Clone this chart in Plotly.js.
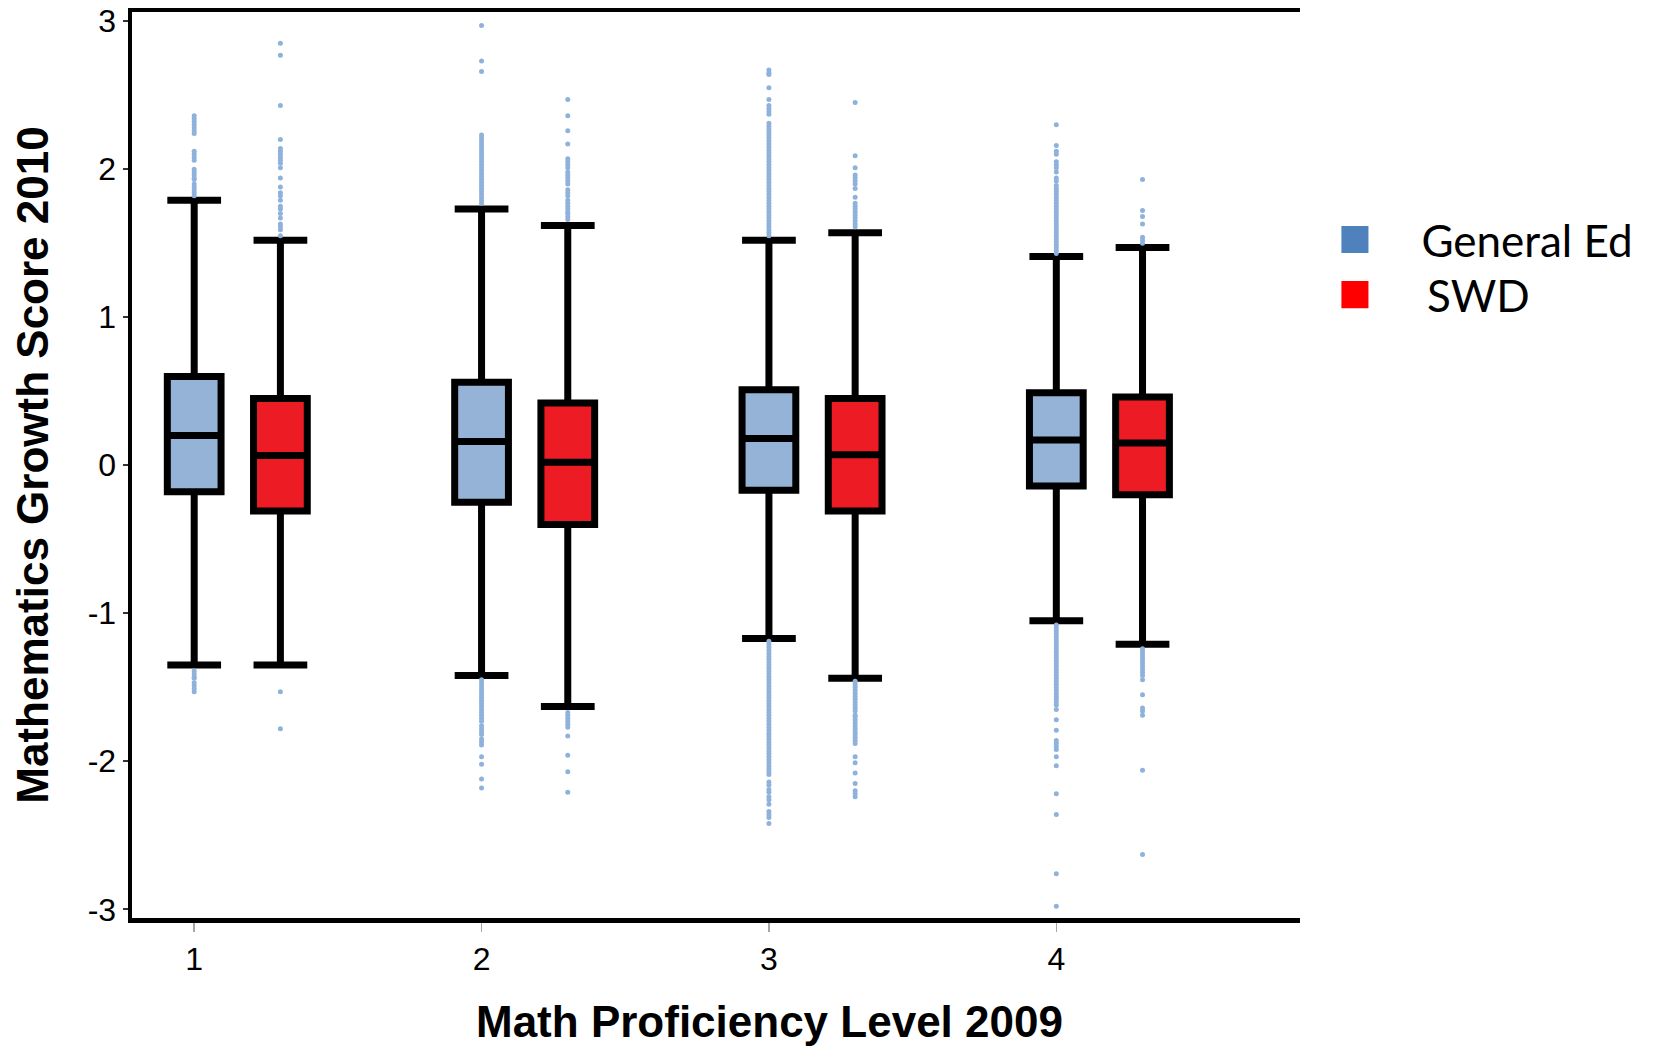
<!DOCTYPE html>
<html>
<head>
<meta charset="utf-8">
<script src="https://cdn.plot.ly/plotly-3.0.1.min.js"></script>
<style>html,body{margin:0;padding:0;background:#fff;}#chart{width:1654px;height:1047px;}</style>
</head>
<body>
<div id="chart"></div>
<script>
// ---- data ----
const levels = [1, 2, 3, 4];
const tickLabels = ['1', '2', '3', '4'];
const yTickVals = [-3, -2, -1, 0, 1, 2, 3];
const yTickLabels = ['-3', '-2', '-1', '0', '1', '2', '3'];
const seriesNames = ['General Ed', 'SWD'];

const geLowerFence = [-1.35, -1.42, -1.17, -1.05];
const geQ1 = [-0.18, -0.25, -0.17, -0.14];
const geMedian = [0.20, 0.16, 0.18, 0.17];
const geQ3 = [0.60, 0.56, 0.51, 0.49];
const geUpperFence = [1.79, 1.73, 1.52, 1.41];

const swdLowerFence = [-1.35, -1.63, -1.44, -1.21];
const swdQ1 = [-0.31, -0.40, -0.31, -0.20];
const swdMedian = [0.065, 0.02, 0.07, 0.15];
const swdQ3 = [0.45, 0.42, 0.45, 0.46];
const swdUpperFence = [1.52, 1.62, 1.57, 1.47];

// outliers (per level)
const geOut1 = [2.36, 2.34, 2.32, 2.30, 2.28, 2.26, 2.24, 2.12, 2.10, 2.08, 2.06, 2.00, 1.98, 1.96, 1.94, 1.93,
  1.90, 1.88, 1.86, 1.84, 1.82, -1.39, -1.41, -1.43, -1.44, -1.47, -1.49, -1.51, -1.53];
const geOut2 = [2.97, 2.73, 2.66, 2.23, 2.21, 2.19, 2.17, 2.15, 2.13, 2.11, 2.09, 2.07, 2.05, 2.03, 2.01, 1.99,
  1.97, 1.95, 1.93, 1.91, 1.89, 1.87, 1.85, 1.83, 1.81, 1.79, 1.77,
  -1.45, -1.47, -1.49, -1.51, -1.53, -1.55, -1.57, -1.59, -1.61, -1.63, -1.65, -1.67, -1.69, -1.71, -1.73,
  -1.76, -1.78, -1.80, -1.82, -1.85, -1.87, -1.89, -1.97, -2.02, -2.12, -2.18];
const geOut3 = [2.67, 2.65, 2.64, 2.55, 2.47, 2.43, 2.41, 2.39, 2.37,
  2.31, 2.29, 2.27, 2.25, 2.23, 2.21, 2.19, 2.17, 2.15, 2.13, 2.11, 2.09, 2.07, 2.05, 2.03, 2.01, 1.99, 1.97,
  1.95, 1.93, 1.91, 1.89, 1.87, 1.85, 1.83, 1.81, 1.79, 1.77, 1.75, 1.73, 1.71, 1.69, 1.67, 1.65, 1.63, 1.61,
  1.59, 1.57, 1.55,
  -1.19, -1.21, -1.23, -1.25, -1.27, -1.29, -1.31, -1.33, -1.35, -1.37, -1.39, -1.41, -1.43, -1.45, -1.47,
  -1.49, -1.51, -1.53, -1.55, -1.57, -1.59, -1.61, -1.63, -1.65, -1.67, -1.69, -1.71, -1.73, -1.75, -1.77,
  -1.79, -1.81, -1.83, -1.85, -1.87, -1.89, -1.91, -1.93, -1.95, -1.97,
  -1.99, -2.01, -2.03, -2.05, -2.07, -2.09, -2.14, -2.16, -2.19, -2.21, -2.24, -2.26, -2.29,
  -2.34, -2.36, -2.38, -2.42];
const geOut4 = [2.30, 2.16, 2.12, 2.10, 2.05, 2.03, 2.01, 1.98, 1.94, 1.92,
  1.89, 1.87, 1.85, 1.83, 1.81, 1.79, 1.77, 1.75, 1.73, 1.71, 1.69, 1.67, 1.65, 1.63, 1.61, 1.59, 1.57, 1.55,
  1.53, 1.51, 1.49, 1.47, 1.45, 1.43,
  -1.08, -1.10, -1.12, -1.14, -1.16, -1.18, -1.20, -1.22, -1.24, -1.26, -1.28, -1.30, -1.32, -1.34, -1.36,
  -1.38, -1.40, -1.42, -1.44, -1.46, -1.48, -1.50, -1.52, -1.54,
  -1.56, -1.58, -1.60, -1.62, -1.65, -1.72, -1.79, -1.86, -1.88, -1.90, -1.92, -1.97, -2.03, -2.22, -2.36,
  -2.76, -2.98];

const swdOut1 = [2.85, 2.77, 2.43, 2.20, 2.14, 2.12, 2.10, 2.08, 2.06, 2.04, 2.01, 1.94, 1.88, 1.84, 1.82, 1.79,
  1.75, 1.73, 1.70, 1.67, 1.63, 1.61, 1.59, 1.55, -1.53, -1.78];
const swdOut2 = [2.47, 2.36, 2.26, 2.17, 2.07, 2.05, 2.03, 2.01, 1.98, 1.96, 1.94, 1.92, 1.90, 1.86, 1.84, 1.82,
  1.79, 1.77, 1.75, 1.73, 1.71, 1.70, 1.68, 1.66,
  -1.67, -1.69, -1.71, -1.73, -1.75, -1.77, -1.83, -1.96, -2.07, -2.21];
const swdOut3 = [2.45, 2.09, 2.01, 1.96, 1.94, 1.92, 1.90, 1.87, 1.81, 1.77, 1.75, 1.73, 1.71, 1.69, 1.67,
  1.65, 1.63, 1.61,
  -1.46, -1.48, -1.50, -1.52, -1.54, -1.56, -1.58, -1.60, -1.62, -1.64, -1.66, -1.69, -1.70, -1.72, -1.74,
  -1.76, -1.78, -1.80, -1.82, -1.84, -1.86, -1.88, -1.97, -2.01, -2.08, -2.15, -2.20, -2.22, -2.24];
const swdOut4 = [1.93, 1.72, 1.68, 1.63, 1.54, 1.52, 1.50,
  -1.24, -1.26, -1.28, -1.30, -1.32, -1.34, -1.36, -1.38, -1.40, -1.42, -1.45, -1.55, -1.64, -1.66, -1.69,
  -2.06, -2.63];

const geOutliers = [geOut1, geOut2, geOut3, geOut4];
const swdOutliers = [swdOut1, swdOut2, swdOut3, swdOut4];

// ---- styling ----
const SWD_SHIFT = 0.3;
const geFill = '#95b3d7';
const swdFill = '#ed1c24';
const outlierColor = '#8fb2dc';
const FONT = 'Liberation Sans, Arial, sans-serif';

const gePos = levels.map(v => v);
const swdPos = levels.map(v => v + SWD_SHIFT);

function flattenOutliers(groups, pos) {
  const xs = [], ys = [];
  groups.forEach((arr, i) => arr.forEach(v => { xs.push(pos[i]); ys.push(v); }));
  return {xs, ys};
}
const geO = flattenOutliers(geOutliers, gePos);
const swdO = flattenOutliers(swdOutliers, swdPos);

const boxCommon = {
  type: 'box', boxpoints: false, width: 0.187, whiskerwidth: 1,
  line: {color: '#000', width: 7}, showlegend: false, hoverinfo: 'skip'
};

const traces = [
  {type: 'scatter', mode: 'markers', x: geO.xs, y: geO.ys, showlegend: false, hoverinfo: 'skip',
   marker: {color: outlierColor, size: 5, symbol: 'circle'}},
  {type: 'scatter', mode: 'markers', x: swdO.xs, y: swdO.ys, showlegend: false, hoverinfo: 'skip',
   marker: {color: outlierColor, size: 5, symbol: 'circle'}},
  Object.assign({}, boxCommon, {name: seriesNames[0], x: gePos, q1: geQ1, median: geMedian, q3: geQ3,
    lowerfence: geLowerFence, upperfence: geUpperFence, fillcolor: geFill}),
  Object.assign({}, boxCommon, {name: seriesNames[1], x: swdPos, q1: swdQ1, median: swdMedian, q3: swdQ3,
    lowerfence: swdLowerFence, upperfence: swdUpperFence, fillcolor: swdFill}),
  {type: 'scatter', mode: 'markers', x: [null], y: [null], name: seriesNames[0], legendgroup: 'a',
   marker: {color: '#4f81bd', size: 16, symbol: 'square'}},
  {type: 'scatter', mode: 'markers', x: [null], y: [null], name: '\u2009' + seriesNames[1], legendgroup: 'b',
   marker: {color: '#ff0000', size: 16, symbol: 'square'}}
];

const layout = {
  width: 1654, height: 1047,
  margin: {l: 132, r: 354, t: 12, b: 129, pad: 0},
  paper_bgcolor: '#fff', plot_bgcolor: '#fff',
  showlegend: true,
  boxmode: 'overlay',
  font: {family: FONT, color: '#000'},
  xaxis: {
    range: [0.7836, 4.848], tickvals: levels, ticktext: tickLabels,
    showgrid: false, zeroline: false, showline: true, mirror: true,
    linecolor: '#000', linewidth: 4.5,
    ticks: 'outside', ticklen: 9, tickwidth: 1.5, tickcolor: '#a6a6a6',
    tickfont: {size: 32, family: FONT, color: '#000'}
  },
  yaxis: {
    range: [-3.0588, 3.0615], tickvals: yTickVals, ticktext: yTickLabels,
    showgrid: false, zeroline: false, showline: true,
    linecolor: '#000', linewidth: 4.5,
    ticks: 'outside', ticklen: 5, tickwidth: 2, tickcolor: '#333',
    tickfont: {size: 32, family: FONT, color: '#000'},
    title: {text: 'Mathematics Growth Score 2010', standoff: 26,
      font: {size: 44, family: FONT, weight: 'bold', color: '#000'}}
  },
  annotations: [{
    text: '<b>Math Proficiency Level 2009</b>', xref: 'paper', yref: 'paper',
    x: (769 - 132) / 1168, y: -(1021 - 918) / 906, xanchor: 'center', yanchor: 'middle',
    showarrow: false, font: {size: 44, family: FONT, color: '#000'}
  }],
  legend: {
    x: 0.9901, y: 0.7877, xanchor: 'left', yanchor: 'top', traceorder: 'grouped', tracegroupgap: 0,
    itemwidth: 123, bgcolor: 'rgba(0,0,0,0)', borderwidth: 0,
    font: {family: 'Lato, Open Sans, sans-serif', size: 44, color: '#000'}
  }
};

Plotly.newPlot('chart', traces, layout, {staticPlot: true}).then(gd => {
  gd.querySelectorAll('.legend .legendpoints path.scatterpts').forEach(p => {
    const t = p.getAttribute('transform') || '';
    p.setAttribute('transform', t + ' scale(1.69)');
  });
  // tighten the spacing between the two legend entries
  const items = gd.querySelectorAll('.legend g.traces');
  if (items.length > 1) {
    const it = items[1];
    const t = it.getAttribute('transform') || '';
    it.setAttribute('transform', t + ' translate(0,-5)');
  }
});
</script>
</body>
</html>
